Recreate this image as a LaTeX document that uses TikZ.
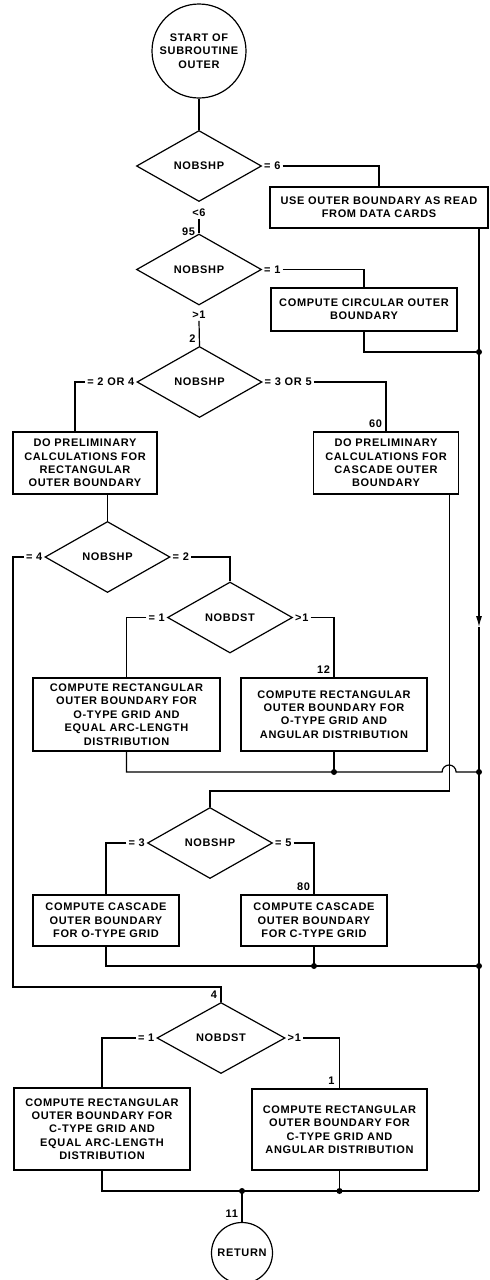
\documentclass[tikz,border=0pt]{standalone}
\usepackage{fontspec}
\newfontfamily\dfont[LetterSpace=6]{Liberation Sans}
\usetikzlibrary{shapes.geometric,arrows.meta}
\begin{document}
\begin{tikzpicture}[x=1pt,y=-1pt, line width=1.2pt,
  every node/.style={font=\dfont\bfseries\fontsize{11}{13.4}\selectfont},
  box/.style={draw, rectangle, align=center, inner sep=2pt},
  dia/.style={draw, diamond, minimum width=125pt, minimum height=71pt, inner sep=0pt},
  term/.style={draw, circle, align=center, inner sep=0pt},
  lbl/.style={inner sep=1.5pt},
  dot/.style={circle, fill, inner sep=0pt, minimum size=6pt}]
\useasboundingbox (0,0) rectangle (490,1280);
% nodes
\node[term, minimum size=94pt] (start) at (199,51) {START OF\\SUBROUTINE\\OUTER};
\node[dia] (d1) at (199,166) {NOBSHP};
\node[box, minimum width=218pt, minimum height=41pt] (bUse) at (379,207.5) {USE OUTER BOUNDARY AS READ\\FROM DATA CARDS};
\node[dia] (d2) at (199,269.5) {NOBSHP};
\node[box, minimum width=186pt, minimum height=43pt] (bCirc) at (364,309.5) {COMPUTE CIRCULAR OUTER\\BOUNDARY};
\node[dia] (d3) at (199.5,382) {NOBSHP};
\node[box, minimum width=144pt, minimum height=62pt] (bPreR) at (85,463) {DO PRELIMINARY\\CALCULATIONS FOR\\RECTANGULAR\\OUTER BOUNDARY};
\node[box, minimum width=145pt, minimum height=62pt] (bPreC) at (386,463) {DO PRELIMINARY\\CALCULATIONS FOR\\CASCADE OUTER\\BOUNDARY};
\node[dia] (d4) at (107.5,557) {NOBSHP};
\node[dia] (d5) at (230,617.5) {NOBDST};
\node[box, minimum width=187pt, minimum height=73pt] (bRO1) at (126.5,714.5) {COMPUTE RECTANGULAR\\OUTER BOUNDARY FOR\\O-TYPE GRID AND\\EQUAL ARC-LENGTH\\DISTRIBUTION};
\node[box, minimum width=186pt, minimum height=73pt] (bRO2) at (334,714.5) {COMPUTE RECTANGULAR\\OUTER BOUNDARY FOR\\O-TYPE GRID AND\\ANGULAR DISTRIBUTION};
\node[dia] (d6) at (210,843) {NOBSHP};
\node[box, minimum width=146pt, minimum height=51pt] (bCO) at (106,920.5) {COMPUTE CASCADE\\OUTER BOUNDARY\\FOR O-TYPE GRID};
\node[box, minimum width=146pt, minimum height=51pt] (bCC) at (314,920.5) {COMPUTE CASCADE\\OUTER BOUNDARY\\FOR C-TYPE GRID};
\node[dia, minimum width=128pt] (d7) at (221,1038) {NOBDST};
\node[box, minimum width=176pt, minimum height=82pt] (bRC1) at (102,1129) {COMPUTE RECTANGULAR\\OUTER BOUNDARY FOR\\C-TYPE GRID AND\\EQUAL ARC-LENGTH\\DISTRIBUTION};
\node[box, minimum width=175pt, minimum height=81pt] (bRC2) at (339.5,1129.5) {COMPUTE RECTANGULAR\\OUTER BOUNDARY FOR\\C-TYPE GRID AND\\ANGULAR DISTRIBUTION};
\node[term, minimum size=61pt] (ret) at (242,1253) {RETURN};
% helper coordinates
\coordinate (railL) at (13,0);
\coordinate (railR) at (479,0);
\coordinate (hCirc) at (0,352);
\coordinate (hArrow) at (0,627);
\coordinate (hRO) at (0,772);
\coordinate (hCasc) at (0,791);
\coordinate (hCO) at (0,966);
\coordinate (hLeft) at (0,987);
\coordinate (hBot) at (0,1191);
\coordinate (cascX) at ([xshift=-10pt]bPreC.south east);
% labels
\node[lbl, anchor=west] (l6) at (d1.east) {= 6};
\node[lbl, anchor=north] (lt6) at ([yshift=-4.5pt]d1.south) {<6};
\node[lbl, anchor=east] (n95) at ([shift={(-2,-2)}]d2.north) {95};
\node[lbl, anchor=west] (l1) at (d2.east) {= 1};
\node[lbl, anchor=north] (gt1) at ([yshift=-3.5pt]d2.south) {>1};
\node[lbl, anchor=east] (n2) at ([shift={(-2,-7)}]d3.north) {2};
\node[lbl, anchor=east] (l24) at (d3.west) {= 2 OR 4};
\node[lbl, anchor=west] (l35) at (d3.east) {= 3 OR 5};
\node[lbl, anchor=south east] (n60) at ([shift={(-2,-1.5)}]bPreC.north) {60};
\node[lbl, anchor=east] (l4) at (d4.west) {= 4};
\node[lbl, anchor=west] (l2) at (d4.east) {= 2};
\node[lbl, anchor=east] (l1a) at (d5.west) {= 1};
\node[lbl, anchor=west] (g1a) at (d5.east) {>1};
\node[lbl, anchor=south east] (n12) at ([shift={(-2,-1.5)}]bRO2.north) {12};
\node[lbl, anchor=east] (l3) at (d6.west) {= 3};
\node[lbl, anchor=west] (l5) at (d6.east) {= 5};
\node[lbl, anchor=south east] (n80) at ([shift={(-2,-1.5)}]bCC.north) {80};
\node[lbl, anchor=south east] (n4) at ([shift={(-2,-1.5)}]d7.north) {4};
\node[lbl, anchor=east] (l1b) at (d7.west) {= 1};
\node[lbl, anchor=west] (g1b) at (d7.east) {>1};
\node[lbl, anchor=south east] (n1) at ([shift={(-3,-1.5)}]bRC2.north) {1};
\node[lbl, anchor=south east] (n11) at ([shift={(-2,-2)}]ret.north) {11};
% connectors
\draw (start.south) -- (d1.north);
\draw (l6.east) -| (bUse.north);
\draw (lt6.south) -- (d2.north);
\draw (l1.east) -| (bCirc.north);
\draw (gt1.south) -- (d3.north);
\draw (bCirc.south) |- (railR |- hCirc);
\draw[-{Latex[length=11pt,width=6pt]}] (bUse.south -| railR) -- (railR |- hArrow);
\draw (railR |- hArrow) -- (railR |- hBot);
\draw (l24.west) -| ([xshift=-10pt]bPreR.north);
\draw (l35.east) -| (bPreC.north);
\draw (bPreR.south -| d4.north) -- (d4.north);
\draw (l4.west) -| (railL |- hLeft) -| (d7.north);
\draw (l2.east) -| (d5.north);
\draw (l1a.west) -| (bRO1.north);
\draw (g1a.east) -| (bRO2.north);
\draw (bRO1.south) |- ([xshift=-7pt]cascX |- hRO) arc[start angle=180, end angle=0, radius=7pt] -- (railR |- hRO);
\draw (bRO2.south) -- (bRO2.south |- hRO);
\draw (cascX) |- (d6.north |- hCasc) -- (d6.north);
\draw (l3.west) -| (bCO.north);
\draw (l5.east) -| (bCC.north);
\draw (bCO.south) |- (railR |- hCO);
\draw (bCC.south) -- (bCC.south |- hCO);
\draw (l1b.west) -| (bRC1.north);
\draw (g1b.east) -| (bRC2.north);
\draw (bRC1.south) |- (railR |- hBot);
\draw (bRC2.south) -- (bRC2.south |- hBot);
\draw (ret.north |- hBot) -- (ret.north);
% junction dots
\node[dot] (j1) at (railR |- hCirc) {};
\node[dot] (j2) at (bRO2.south |- hRO) {};
\node[dot] (j3) at (railR |- hRO) {};
\node[dot] (j4) at (bCC.south |- hCO) {};
\node[dot] (j5) at (railR |- hCO) {};
\node[dot] (j6) at (ret.north |- hBot) {};
\node[dot] (j7) at (bRC2.south |- hBot) {};
\end{tikzpicture}
\end{document}
